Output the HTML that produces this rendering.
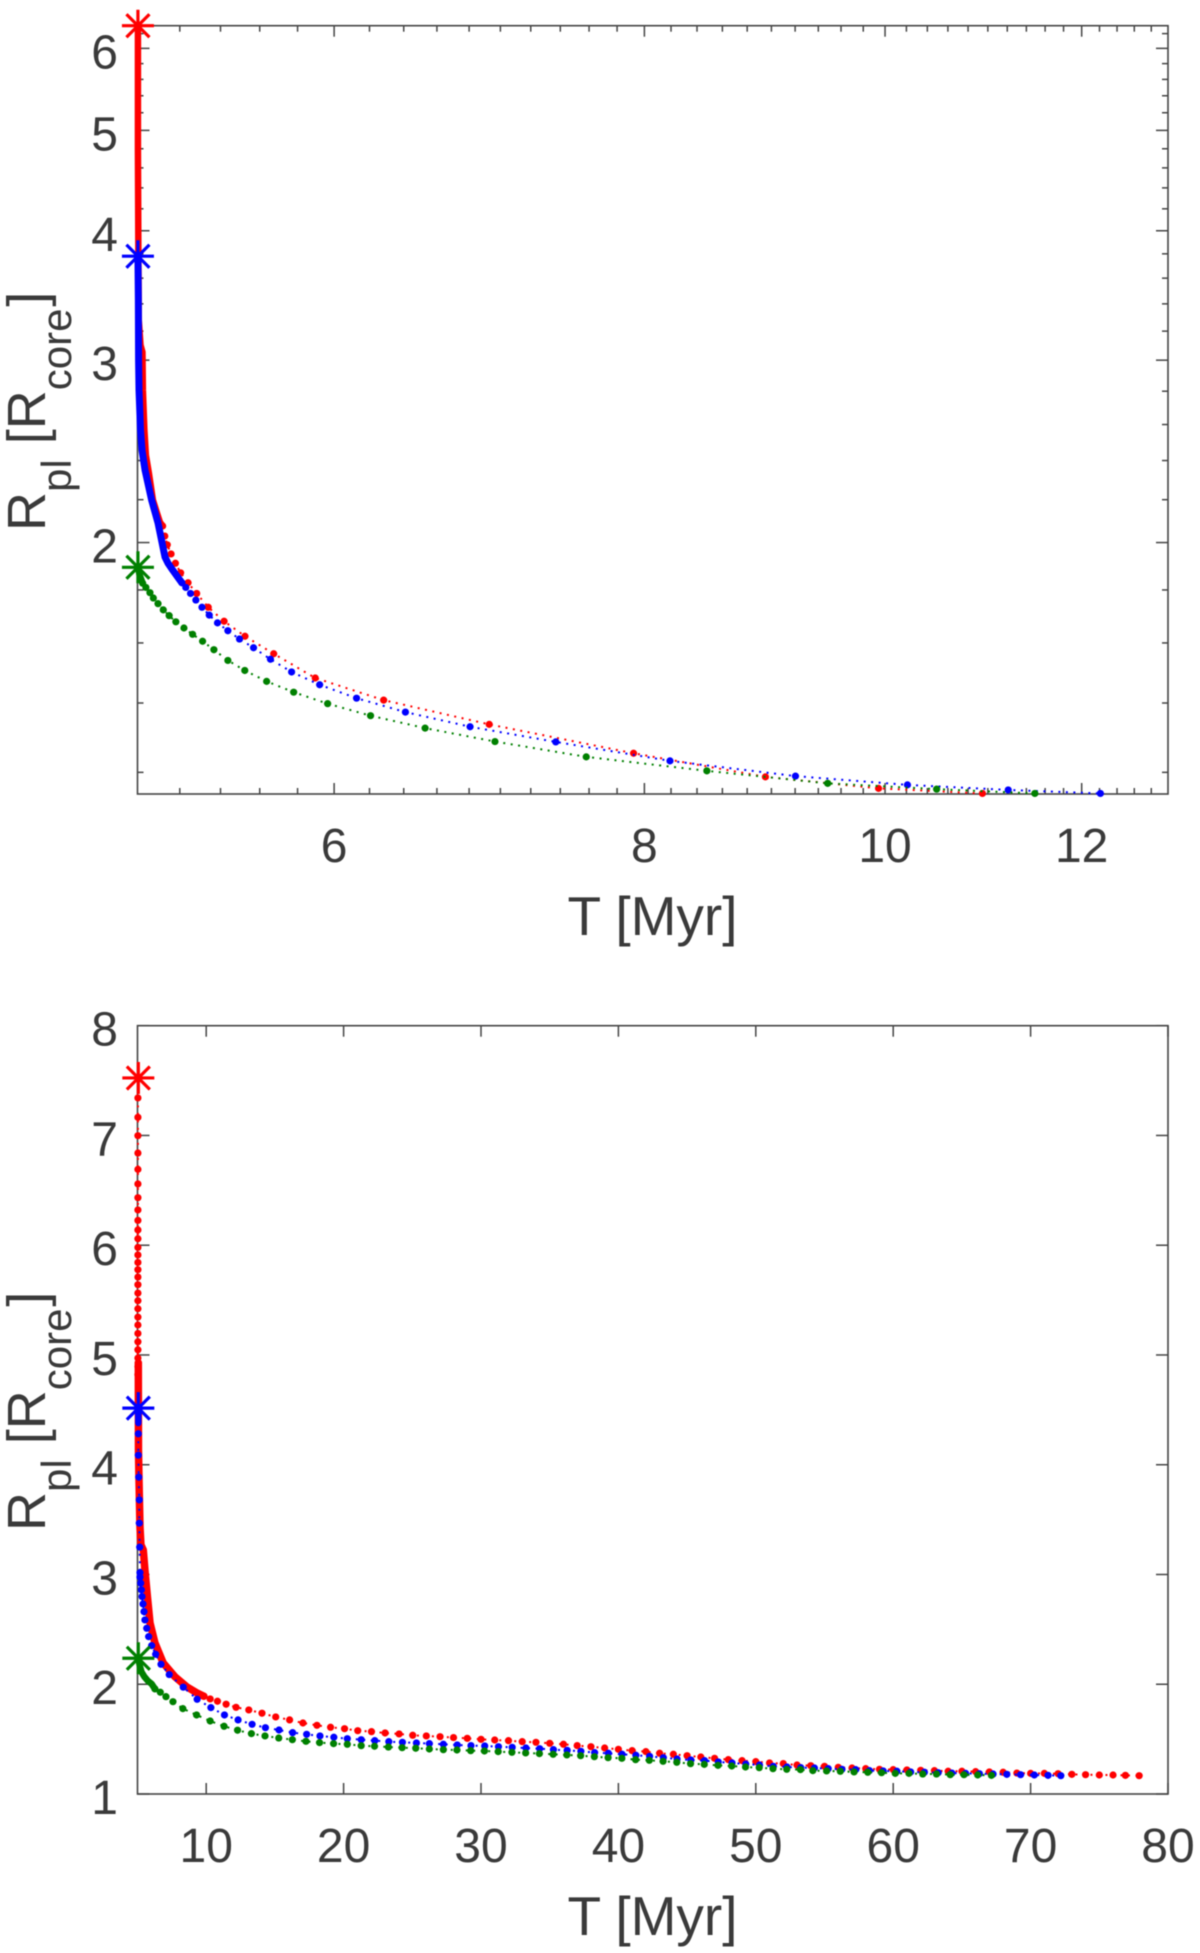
<!DOCTYPE html>
<html lang="en">
<head>
<meta charset="utf-8">
<title>Planet radius versus time</title>
<style>
html,body{margin:0;padding:0;background:#fff;}
svg{display:block;filter:blur(0.55px);}
text{font-family:"Liberation Sans",Arial,sans-serif;fill:#3a3a3a;}
</style>
</head>
<body>
<svg id="figure" xmlns="http://www.w3.org/2000/svg" width="1200" height="1953" viewBox="0 0 1200 1953">
  <rect x="0" y="0" width="1200" height="1953" fill="#ffffff"/>
  <g id="top-chart"></g>
  <g id="bottom-chart"></g>
  <text x="652.5" y="935" font-size="55" text-anchor="middle">T [Myr]</text>
  <text x="652.5" y="1935" font-size="55" text-anchor="middle">T [Myr]</text>
  <text transform="translate(45,531) rotate(-90)" font-size="54">R<tspan font-size="42" dy="26">pl</tspan><tspan dy="-26"> [R</tspan><tspan font-size="42" dy="26">core</tspan><tspan dy="-26" dx="2">]</tspan></text>
  <text transform="translate(45,1531) rotate(-90)" font-size="54">R<tspan font-size="42" dy="26">pl</tspan><tspan dy="-26"> [R</tspan><tspan font-size="42" dy="26">core</tspan><tspan dy="-26" dx="2">]</tspan></text>
</svg>
<script>
// ---------- top chart: tick values ----------
const topXMajorTicks = [6, 8, 10, 12];
const topXMinorTicks = [5.2,5.4,5.6,5.8,6.2,6.4,6.6,6.8,7,7.2,7.4,7.6,7.8,8.2,8.4,8.6,8.8,9,9.2,9.4,9.6,9.8,10.2,10.4,10.6,10.8,11,11.2,11.4,11.6,11.8,12.2,12.4,12.6,12.8];
const topYMajorTicks = [2, 3, 4, 5, 6];
const topYMinorTicks = [1.2,1.4,1.6,1.8,2.2,2.4,2.6,2.8,3.2,3.4,3.6,3.8,4.2,4.4,4.6,4.8,5.2,5.4,5.6,5.8,6.2];

// ---------- top chart: series ----------
const topRedT = [5.118,5.128,5.140,5.158,5.179,5.204,5.240,5.282,5.339,5.418,5.524,5.673,5.896,6.282,6.928,7.92,8.95,9.94,10.945];
const topRedR = [2.075,2.029,1.990,1.950,1.910,1.870,1.829,1.786,1.732,1.679,1.624,1.562,1.480,1.409,1.335,1.252,1.188,1.158,1.145];
const topRedDenseT = [5.002,5.002,5.004,5.006,5.014,5.023,5.025,5.032,5.039,5.053,5.072,5.091,5.105,5.118];
const topRedDenseR = [6.289,4.784,3.831,3.279,3.102,3.054,2.807,2.568,2.429,2.334,2.198,2.136,2.093,2.075];
const topRedStart = [5.002, 6.31];

const topBlueT = [5.210,5.229,5.252,5.278,5.308,5.344,5.385,5.437,5.496,5.568,5.656,5.768,5.920,6.126,6.410,6.806,7.369,8.192,9.203,10.21,11.21,12.21];
const topBlueR = [1.829,1.810,1.786,1.760,1.732,1.702,1.673,1.644,1.614,1.583,1.543,1.500,1.458,1.415,1.372,1.328,1.284,1.231,1.190,1.167,1.154,1.145];
const topBlueDenseT = [5.002,5.004,5.005,5.007,5.014,5.021,5.035,5.066,5.096,5.129,5.143,5.166,5.190,5.210];
const topBlueDenseR = [3.78,3.428,3.000,2.807,2.568,2.456,2.350,2.198,2.089,1.937,1.911,1.881,1.852,1.829];
const topBlueStart = [5.002, 3.78];

const topGreenT = [5.024,5.039,5.058,5.074,5.096,5.121,5.149,5.181,5.220,5.262,5.311,5.367,5.437,5.523,5.636,5.779,5.964,6.206,6.528,6.965,7.580,8.477,9.482,10.49,11.49];
const topGreenR = [1.827,1.810,1.789,1.768,1.746,1.722,1.700,1.677,1.654,1.631,1.606,1.576,1.539,1.505,1.469,1.434,1.398,1.361,1.324,1.285,1.242,1.204,1.171,1.156,1.145];
const topGreenDenseT = [5.002,5.010,5.024];
const topGreenDenseR = [1.893,1.860,1.827];
const topGreenStart = [5.002, 1.893];

// ---------- bottom chart: tick values ----------
const bottomXMajorTicks = [10, 20, 30, 40, 50, 60, 70, 80];
const bottomYMajorTicks = [1, 2, 3, 4, 5, 6, 7, 8];

// ---------- bottom chart: series ----------
const bottomRedUpperT = [5.03,5.03,5.03,5.03,5.03,5.03,5.03,5.03,5.03,5.03,5.03,5.03,5.03,5.03,5.03,5.03,5.03,5.03,5.03,5.03,5.03,5.03,5.03,5.03,5.03,5.03,5.03,5.03];
const bottomRedUpperR = [7.342,7.165,6.998,6.84,6.691,6.558,6.433,6.321,6.226,6.139,6.059,5.98,5.911,5.843,5.777,5.71,5.64,5.564,5.494,5.421,5.345,5.273,5.196,5.12,5.047,4.972,4.895,4.82];
const bottomRedT = [9.83,10.29,10.82,11.45,12.17,13.10,14.06,15.06,16.07,17.04,18.06,19.05,20.07,21.03,22.03,23.02,24.04,25.03,26.02,27.02,
  28.0,29.0,30.0,31.0,32.0,33.0,34.0,35.0,36.0,37.0,38.0,39.0,40.0,41.0,42.0,43.0,44.0,45.0,46.0,47.0,48.0,49.0,50.0,51.0,52.0,53.0,
  54.0,55.0,56.0,57.0,58.0,59.0,60.0,61.0,62.0,63.0,64.0,65.0,66.0,67.0,68.0,69.0,70.0,71.0,72.0,73.0,74.0,75.0,76.0,76.9,77.9];
const bottomRedR = [1.891,1.866,1.845,1.818,1.790,1.766,1.736,1.702,1.675,1.647,1.626,1.608,1.595,1.577,1.568,1.556,1.547,1.535,1.529,1.522,
  1.514,1.507,1.498,1.492,1.486,1.477,1.471,1.462,1.453,1.441,1.431,1.419,1.407,1.395,1.386,1.371,1.362,1.349,1.337,1.325,1.313,1.304,1.295,1.283,1.277,1.264,
  1.258,1.252,1.243,1.237,1.231,1.225,1.222,1.219,1.216,1.213,1.207,1.207,1.204,1.201,1.198,1.191,1.188,1.188,1.185,1.179,1.176,1.173,1.173,1.170,1.167];
const bottomRedDenseT = [5.06,5.07,5.11,5.18,5.25,5.42,5.54,5.73,5.91,6.27,6.87,7.72,8.57,9.30,9.83];
const bottomRedDenseR = [4.929,4.136,3.862,3.434,3.27,3.224,3.042,2.787,2.559,2.376,2.194,2.069,1.978,1.923,1.891];
const bottomRedStart = [5.06, 7.524];

const bottomBlueT = [5.06,5.06,5.09,5.13,5.13,5.16,5.18,5.18,5.23,5.28,5.33,5.40,5.47,5.54,5.67,5.81,6.03,6.32,6.71,7.31,8.33,9.34,10.34,11.33,12.32,13.34,14.31,15.30,16.29,17.31,18.28,19.29,20.27,21.28,22.27,23.29,24.28,25.30,26.24,27.26,
  28.27,29.27,30.27,31.27,32.27,33.27,34.27,35.27,36.27,37.27,38.27,39.27,40.27,41.27,42.27,43.27,44.27,45.27,46.27,47.27,48.27,49.27,50.27,51.27,52.27,53.27,
  54.27,55.27,56.27,57.27,58.27,59.27,60.27,61.27,62.27,63.27,64.27,65.27,66.27,67.27,68.27,69.27,70.27,71.27,72.2];
const bottomBlueR = [4.282,4.087,3.887,3.68,3.468,3.249,3.017,2.975,2.921,2.860,2.799,2.732,2.662,2.586,2.510,2.434,2.352,2.273,2.182,2.088,1.973,1.863,1.787,1.720,1.675,1.635,1.604,1.583,1.559,1.544,1.529,1.517,1.504,1.495,1.486,1.477,1.471,1.465,1.459,1.453,
  1.447,1.441,1.438,1.431,1.425,1.419,1.413,1.404,1.398,1.389,1.377,1.371,1.362,1.353,1.343,1.331,1.319,1.310,1.304,1.292,1.283,1.273,1.264,1.252,1.246,1.240,
  1.237,1.231,1.225,1.222,1.213,1.210,1.207,1.201,1.198,1.194,1.191,1.188,1.185,1.182,1.179,1.176,1.173,1.170,1.167];
const bottomBlueDenseT = [5.06,5.06];
const bottomBlueDenseR = [4.516,4.38];
const bottomBlueStart = [5.06, 4.516];

const bottomGreenT = [6.27,6.66,7.07,7.58,8.30,9.30,10.29,11.30,12.28,13.29,14.28,15.28,16.27,17.26,18.25,19.27,20.27,21.28,22.25,23.26,24.26,25.25,26.24,27.26,
  28.25,29.25,30.25,31.25,32.25,33.25,34.25,35.25,36.25,37.25,38.25,39.25,40.25,41.25,42.25,43.25,44.25,45.25,46.25,47.25,48.25,49.25,50.25,51.25,52.25,53.25,
  54.15,55.15,56.15,57.15,58.15,59.15,60.15,61.15,62.15,63.15,64.15,65.15,66.15,67.15];
const bottomGreenR = [1.957,1.927,1.887,1.841,1.778,1.720,1.665,1.617,1.581,1.550,1.529,1.510,1.495,1.480,1.468,1.459,1.453,1.440,1.435,1.428,1.422,1.417,1.410,1.404,
  1.401,1.395,1.392,1.386,1.380,1.374,1.368,1.362,1.356,1.349,1.340,1.331,1.325,1.313,1.307,1.298,1.289,1.276,1.270,1.261,1.255,1.246,1.240,1.231,1.225,1.222,
  1.213,1.210,1.207,1.201,1.198,1.194,1.188,1.188,1.182,1.182,1.176,1.176,1.173,1.170];
const bottomGreenDenseT = [5.06,5.15,5.29,5.51,5.76,6.03,6.27];
const bottomGreenDenseR = [2.237,2.176,2.112,2.067,2.030,2.003,1.957];
const bottomGreenStart = [5.06, 2.237];

// ---------- layout ----------
const SVG_NS = 'http://www.w3.org/2000/svg';
const plotLeft = 137.5, plotRight = 1168;
const topPlotTop = 25.7, topPlotBottom = 794;
const bottomPlotTop = 1025.7, bottomPlotBottom = 1794;
const axisColor = '#454545';
const redColor = '#ff0000', blueColor = '#0000ff', greenColor = '#008000';

// ---------- axis functions ----------
function topX(t) { return plotLeft + Math.log(t / 5) / Math.log(13 / 5) * (plotRight - plotLeft); }
function topY(r) { return topPlotTop + Math.log(6.31 / r) / Math.log(6.31 / 1.1436) * (topPlotBottom - topPlotTop); }
function bottomX(t) { return plotLeft + (t - 5) / 75 * (plotRight - plotLeft); }
function bottomY(r) { return bottomPlotTop + (8 - r) / 7 * (bottomPlotBottom - bottomPlotTop); }

function svgEl(tag, attrs) {
  const el = document.createElementNS(SVG_NS, tag);
  for (const k in attrs) el.setAttribute(k, attrs[k]);
  return el;
}

function drawTick(parent, x1, y1, x2, y2, name) {
  const el = svgEl('line', { x1: x1, y1: y1, x2: x2, y2: y2, stroke: axisColor, 'stroke-width': 1.5 });
  
  
  parent.appendChild(el);
}

function drawAxes(parent, prefix, x, y, pTop, pBottom, xMajor, xMinor, yMajor, yMinor) {
  const box = svgEl('rect', { x: plotLeft, y: pTop, width: plotRight - plotLeft, height: pBottom - pTop, fill: 'none', stroke: axisColor, 'stroke-width': 1.6 });
  
  
  parent.appendChild(box);

  xMajor.forEach(function (t) {
    const px = x(t);
    drawTick(parent, px, pBottom, px, pBottom - 11, prefix + '-x-major-tick');
    drawTick(parent, px, pTop, px, pTop + 11, prefix + '-x-major-tick-top');
    const label = svgEl('text', { x: px, y: pBottom + 68, 'font-size': 48, 'text-anchor': 'middle' });
    label.textContent = String(t);
    
    
    parent.appendChild(label);
  });
  xMinor.forEach(function (t) {
    const px = x(t);
    drawTick(parent, px, pBottom, px, pBottom - 6, prefix + '-x-minor-tick');
    drawTick(parent, px, pTop, px, pTop + 6, prefix + '-x-minor-tick-top');
  });
  yMajor.forEach(function (r) {
    const py = y(r);
    drawTick(parent, plotLeft, py, plotLeft + 12, py, prefix + '-y-major-tick');
    drawTick(parent, plotRight, py, plotRight - 12, py, prefix + '-y-major-tick-right');
    const label = svgEl('text', { x: 118, y: py + 20, 'font-size': 48, 'text-anchor': 'end' });
    label.textContent = String(r);
    
    
    parent.appendChild(label);
  });
  yMinor.forEach(function (r) {
    const py = y(r);
    drawTick(parent, plotLeft, py, plotLeft + 6, py, prefix + '-y-minor-tick');
    drawTick(parent, plotRight, py, plotRight - 6, py, prefix + '-y-minor-tick-right');
  });
}

function pointsAttr(ts, rs, x, y) {
  return ts.map(function (t, i) { return x(t).toFixed(2) + ',' + y(rs[i]).toFixed(2); }).join(' ');
}

function drawRun(group, name, color, x, y, ts, rs) {
  const dotted = svgEl('polyline', { points: pointsAttr(ts, rs, x, y), fill: 'none', stroke: color, 'stroke-width': 2, 'stroke-dasharray': '2 5.5' });
  
  
  group.appendChild(dotted);
  ts.forEach(function (t, i) {
    const c = svgEl('circle', { cx: x(t).toFixed(2), cy: y(rs[i]).toFixed(2), r: 3.6, fill: color });
    
    
    group.appendChild(c);
  });
}

function drawSeries(parent, name, color, x, y, ts, rs, denseT, denseR, start, denseWidth) {
  const group = svgEl('g', {});
  
  
  parent.appendChild(group);

  const dense = svgEl('polyline', { points: pointsAttr(denseT, denseR, x, y), fill: 'none', stroke: color, 'stroke-width': denseWidth, 'stroke-linejoin': 'round', 'stroke-linecap': 'round' });
  
  
  group.appendChild(dense);

  drawRun(group, name, color, x, y, ts, rs);

  const sx = x(start[0]), sy = y(start[1]);
  const star = svgEl('path', {
    d: 'M' + (sx - 16) + ' ' + sy + 'H' + (sx + 16) +
       'M' + sx + ' ' + (sy - 16) + 'V' + (sy + 16) +
       'M' + (sx - 11.5) + ' ' + (sy - 11.5) + 'L' + (sx + 11.5) + ' ' + (sy + 11.5) +
       'M' + (sx - 11.5) + ' ' + (sy + 11.5) + 'L' + (sx + 11.5) + ' ' + (sy - 11.5),
    fill: 'none', stroke: color, 'stroke-width': 3.2
  });
  
  
  group.appendChild(star);
  return group;
}

const topChart = document.getElementById('top-chart');
drawAxes(topChart, 'top', topX, topY, topPlotTop, topPlotBottom, topXMajorTicks, topXMinorTicks, topYMajorTicks, topYMinorTicks);
drawSeries(topChart, 'top-red', redColor, topX, topY, topRedT, topRedR, topRedDenseT, topRedDenseR, topRedStart, 6.5);
drawSeries(topChart, 'top-blue', blueColor, topX, topY, topBlueT, topBlueR, topBlueDenseT, topBlueDenseR, topBlueStart, 7);
drawSeries(topChart, 'top-green', greenColor, topX, topY, topGreenT, topGreenR, topGreenDenseT, topGreenDenseR, topGreenStart, 6.5);

const bottomChart = document.getElementById('bottom-chart');
drawAxes(bottomChart, 'bottom', bottomX, bottomY, bottomPlotTop, bottomPlotBottom, bottomXMajorTicks, [], bottomYMajorTicks, []);
const bottomRedGroup = drawSeries(bottomChart, 'bottom-red', redColor, bottomX, bottomY, bottomRedT, bottomRedR, bottomRedDenseT, bottomRedDenseR, bottomRedStart, 7.5);
drawRun(bottomRedGroup, 'bottom-red-upper', redColor, bottomX, bottomY, bottomRedUpperT, bottomRedUpperR);
drawSeries(bottomChart, 'bottom-blue', blueColor, bottomX, bottomY, bottomBlueT, bottomBlueR, bottomBlueDenseT, bottomBlueDenseR, bottomBlueStart, 6.5);
drawSeries(bottomChart, 'bottom-green', greenColor, bottomX, bottomY, bottomGreenT, bottomGreenR, bottomGreenDenseT, bottomGreenDenseR, bottomGreenStart, 6.5);
</script>
</body>
</html>
